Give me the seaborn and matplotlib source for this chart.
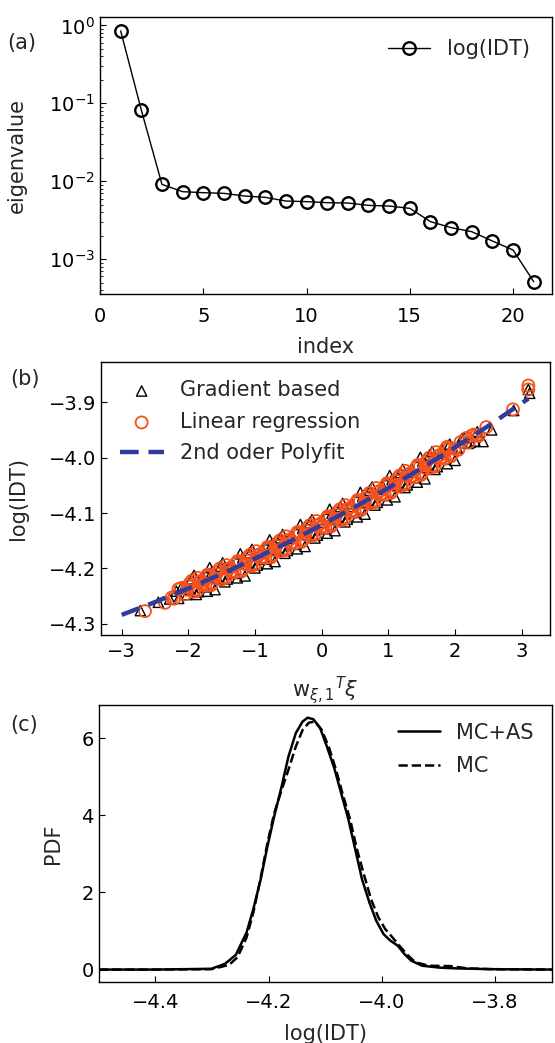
import matplotlib
matplotlib.use("Agg")
import matplotlib.pyplot as plt
import seaborn as sns

# ---------------- data ----------------
# (a) eigenvalues
eig_index = list(range(1, 22))
eig_values = [0.85, 0.082, 0.0091, 0.00734, 0.00713, 0.00699, 0.00646, 0.00621,
              0.00557, 0.00547, 0.00531, 0.00525, 0.0049, 0.0048, 0.00449,
              0.00303, 0.00254, 0.00225, 0.00171, 0.00131, 0.000514]

# (b) gradient based (triangles)
grad_x = [-2.72, -2.45, -2.28, -2.18, -2.10, -2.02, -1.95, -1.88, -1.82, -1.75,
          -1.68, -1.60, -1.52, -1.45, -1.38, -1.30, -1.22, -1.15, -1.08, -1.00,
          -0.92, -0.85, -0.78, -0.70, -0.62, -0.55, -0.48, -0.40, -0.32, -0.25,
          -0.18, -0.10, -0.02, 0.05, 0.12, 0.20, 0.28, 0.35, 0.42, 0.50,
          0.58, 0.65, 0.72, 0.80, 0.88, 0.95, 1.02, 1.10, 1.18, 1.25,
          1.32, 1.40, 1.48, 1.55, 1.62, 1.70, 1.78, 1.85, 1.92, 2.00,
          2.10, 2.20, 2.30, 2.42, 2.55, 2.88, 3.10, 3.12,
          -2.145, -2.065, -1.985, -1.915, -1.845, -1.785, -1.715, -1.645, -1.565, -1.485,
          -1.415, -1.345, -1.265, -1.185, -1.115, -1.045, -0.965, -0.885, -0.815, -0.745,
          -0.665, -0.585, -0.515, -0.445, -0.365, -0.285, -0.215, -0.145, -0.065, 0.015,
          0.085, 0.155, 0.235, 0.315, 0.385, 0.455, 0.535, 0.615, 0.685, 0.755,
          0.835, 0.915, 0.985, 1.055, 1.135, 1.215, 1.285, 1.355, 1.435, 1.515,
          1.585, 1.655, 1.735, 1.815, 1.885, 1.955, 2.035, 2.135, 2.235, 2.335]
grad_y = [-4.276, -4.261, -4.255, -4.241, -4.233, -4.247, -4.2185, -4.2469, -4.2208, -4.2331,
          -4.1984, -4.2382, -4.1959, -4.2241, -4.1973, -4.2089, -4.1735, -4.2135, -4.1716, -4.1990,
          -4.1714, -4.1834, -4.1483, -4.1875, -4.1448, -4.1726, -4.1454, -4.1565, -4.1207, -4.1603,
          -4.1179, -4.1450, -4.1169, -4.1284, -4.0930, -4.1318, -4.0885, -4.1159, -4.0883, -4.0990,
          -4.0626, -4.1020, -4.0591, -4.0857, -4.0571, -4.0683, -4.0324, -4.0707, -4.0272, -4.0541,
          -4.0260, -4.0363, -3.9995, -4.0383, -3.9952, -4.0213, -3.9923, -4.0030, -3.9757, -4.005,
          -3.9659, -3.9743, -3.9704, -3.971, -3.950, -3.915, -3.877, -3.884,
          -4.2540, -4.2341, -4.2381, -4.2125, -4.2419, -4.2158, -4.2411, -4.2054, -4.2172, -4.1899,
          -4.2191, -4.1923, -4.2169, -4.1805, -4.1925, -4.1656, -4.1940, -4.1664, -4.1914, -4.1553,
          -4.1665, -4.1388, -4.1676, -4.1404, -4.1645, -4.1277, -4.1393, -4.1119, -4.1400, -4.1119,
          -4.1364, -4.1000, -4.1108, -4.0825, -4.1109, -4.0833, -4.1070, -4.0696, -4.0810, -4.0531,
          -4.0807, -4.0521, -4.0763, -4.0394, -4.0497, -4.0212, -4.0491, -4.0210, -4.0443, -4.0065,
          -4.0173, -3.9892, -4.0163, -3.9873, -4.0110, -3.9807, -3.9826, -3.9639, -3.9723, -3.9534]

# (b) linear regression (circles)
lin_x = [-2.65, -2.35, -2.25, -2.15, -2.05, -1.98, -1.90, -1.84, -1.78, -1.71,
         -1.64, -1.56, -1.48, -1.41, -1.34, -1.26, -1.18, -1.11, -1.04, -0.96,
         -0.88, -0.81, -0.74, -0.66, -0.58, -0.51, -0.44, -0.36, -0.28, -0.21,
         -0.14, -0.06, 0.02, 0.09, 0.16, 0.24, 0.31, 0.38, 0.46, 0.54,
         0.61, 0.68, 0.76, 0.84, 0.91, 0.98, 1.06, 1.14, 1.21, 1.28,
         1.36, 1.44, 1.51, 1.58, 1.66, 1.74, 1.81, 1.88, 1.96, 2.05,
         2.17, 2.25, 2.32, 2.47, 2.87, 3.10, 3.10,
         -2.215, -2.115, -2.015, -1.945, -1.865, -1.805, -1.745, -1.675, -1.605, -1.525,
         -1.445, -1.375, -1.305, -1.225, -1.145, -1.075, -1.005, -0.925, -0.845, -0.775,
         -0.705, -0.625, -0.545, -0.475, -0.405, -0.325, -0.245, -0.175, -0.105, -0.025,
         0.055, 0.125, 0.195, 0.275, 0.345, 0.415, 0.495, 0.575, 0.645, 0.715,
         0.795, 0.875, 0.945, 1.015, 1.095, 1.175, 1.245, 1.315, 1.395, 1.475,
         1.545, 1.615, 1.695, 1.775, 1.845, 1.915, 1.995, 2.085, 2.205, 2.285, 2.355,
         -2.00, -1.92, -1.86, -1.80, -1.73, -1.66, -1.58, -1.50, -1.43, -1.36,
         -1.28, -1.20, -1.13, -1.06, -0.98, -0.90, -0.83, -0.76, -0.68, -0.60,
         -0.53, -0.46, -0.38, -0.30, -0.23, -0.16, -0.08, 0.00, 0.07, 0.14,
         0.22, 0.29, 0.36, 0.44, 0.52, 0.59, 0.66, 0.74, 0.82, 0.89,
         0.96, 1.04, 1.12, 1.19, 1.26, 1.34, 1.42, 1.49, 1.56, 1.64,
         1.72, 1.79, 1.86, 1.94]
lin_y = [-4.277, -4.262, -4.2526, -4.2376, -4.2466, -4.2270, -4.2379, -4.2248, -4.2287, -4.2111,
         -4.2263, -4.2050, -4.2157, -4.2020, -4.2051, -4.1866, -4.2012, -4.1803, -4.1912, -4.1768,
         -4.1791, -4.1610, -4.1760, -4.1542, -4.1644, -4.1502, -4.1530, -4.1341, -4.1481, -4.1269,
         -4.1374, -4.1224, -4.1243, -4.1059, -4.1203, -4.0981, -4.1086, -4.0939, -4.0956, -4.0764,
         -4.0906, -4.0689, -4.0785, -4.0629, -4.0651, -4.0462, -4.0596, -4.0370, -4.0469, -4.0320,
         -4.0332, -4.0134, -4.0273, -4.0051, -4.0142, -3.9982, -4.0000, -3.9807, -3.9936, -3.9858,
         -3.9646, -3.9604, -3.9598, -3.945, -3.913, -3.870, -3.877,
         -4.2546, -4.2356, -4.2386, -4.2220, -4.2399, -4.2218, -4.2307, -4.2131, -4.2173, -4.2000,
         -4.2177, -4.1990, -4.2071, -4.1886, -4.1922, -4.1753, -4.1932, -4.1738, -4.1811, -4.1630,
         -4.1670, -4.1492, -4.1664, -4.1472, -4.1550, -4.1361, -4.1391, -4.1219, -4.1394, -4.1194,
         -4.1263, -4.1079, -4.1113, -4.0931, -4.1106, -4.0909, -4.0976, -4.0784, -4.0816, -4.0639,
         -4.0805, -4.0599, -4.0671, -4.0482, -4.0506, -4.0320, -4.0489, -4.0290, -4.0352, -4.0154,
         -4.0183, -4.0001, -4.0162, -3.9952, -4.0020, -3.9827, -3.9846, -3.9718, -3.9726, -3.9584, -3.9608,
         -4.2320, -4.2419, -4.2168, -4.2287, -4.2151, -4.2303, -4.2100, -4.2197, -4.1940, -4.2051,
         -4.1906, -4.2052, -4.1853, -4.1952, -4.1688, -4.1791, -4.1650, -4.1800, -4.1592, -4.1684,
         -4.1422, -4.1530, -4.1381, -4.1521, -4.1319, -4.1414, -4.1144, -4.1243, -4.1099, -4.1243,
         -4.1031, -4.1126, -4.0859, -4.0956, -4.0804, -4.0946, -4.0739, -4.0825, -4.0549, -4.0651,
         -4.0502, -4.0636, -4.0420, -4.0509, -4.0240, -4.0332, -4.0174, -4.0313, -4.0101, -4.0182,
         -3.9902, -4.0000, -3.9847, -3.9976]

fit_x = [-3.0, -2.5, -2.0, -1.5, -1.0, -0.5, 0.0, 0.5, 1.0, 1.5, 2.0, 2.5, 3.1]
fit_y = [-4.2837, -4.2607, -4.236, -4.2098, -4.182, -4.1526, -4.1216, -4.089,
         -4.0548, -4.019, -3.9816, -3.9427, -3.8937]

# (c) PDFs
mcas_x = [-4.50, -4.40, -4.301, -4.277, -4.258, -4.239, -4.227, -4.214, -4.202, -4.190,
          -4.177, -4.165, -4.152, -4.140, -4.131, -4.121, -4.109, -4.097, -4.084, -4.072,
          -4.059, -4.047, -4.035, -4.022, -4.010, -3.997, -3.985, -3.972, -3.960, -3.948,
          -3.929, -3.898, -3.867, -3.805, -3.70]
mcas_y = [0.0, 0.0, 0.02, 0.15, 0.38, 0.96, 1.57, 2.34, 3.20, 3.98,
          4.75, 5.52, 6.13, 6.43, 6.53, 6.49, 6.26, 5.78, 5.22, 4.58,
          3.89, 3.12, 2.34, 1.74, 1.27, 0.92, 0.75, 0.62, 0.40, 0.23,
          0.10, 0.05, 0.03, 0.01, 0.0]
mc_x = [-4.50, -4.40, -4.301, -4.270, -4.255, -4.239, -4.227, -4.214, -4.202, -4.190,
        -4.177, -4.165, -4.152, -4.140, -4.129, -4.118, -4.106, -4.093, -4.081, -4.069,
        -4.056, -4.044, -4.031, -4.019, -4.006, -3.994, -3.981, -3.969, -3.956, -3.941,
        -3.917, -3.879, -3.848, -3.805, -3.70]
mc_y = [0.0, 0.0, 0.01, 0.12, 0.32, 0.83, 1.48, 2.38, 3.29, 4.06,
        4.66, 5.18, 5.78, 6.21, 6.40, 6.43, 6.21, 5.74, 5.18, 4.54,
        3.89, 3.12, 2.43, 1.82, 1.35, 1.05, 0.83, 0.62, 0.40, 0.19,
        0.10, 0.09, 0.03, 0.01, 0.0]

# ---------------- style ----------------
sns.set_style("ticks")
plt.rcParams["font.family"] = ["DejaVu Sans"]
plt.rcParams.update({
    "xtick.direction": "in", "ytick.direction": "in",
    "xtick.labelsize": 14, "ytick.labelsize": 14,
    "axes.labelsize": 15, "axes.edgecolor": "black", "axes.linewidth": 1.0,
    "xtick.major.size": 4, "ytick.major.size": 4,
    "xtick.minor.size": 2.5, "ytick.minor.size": 2.5,
    "xtick.color": "black", "ytick.color": "black",
    "legend.fontsize": 15,
})

fig = plt.figure(figsize=(5.55, 10.43), dpi=100)
ax1 = fig.add_axes([0.1802, 0.7181, 0.8138, 0.2656])
ax2 = fig.add_axes([0.182, 0.3912, 0.809, 0.262])
ax3 = fig.add_axes([0.178, 0.0582, 0.816, 0.2659])

# (a)
sns.lineplot(x=eig_index, y=eig_values, ax=ax1, color="black", lw=1.0,
             marker="o", markersize=9, markerfacecolor="none",
             markeredgecolor="black", markeredgewidth=1.7, label="log(IDT)")
ax1.set_yscale("log")
ax1.set_ylim(3.57e-4, 1.28)
ax1.set_xlim(0, 21.87)
ax1.set_xticks([0, 5, 10, 15, 20])
ax1.tick_params(axis="x", pad=9.5)
ax1.set_xlabel("index", labelpad=7.5)
ax1.set_ylabel("eigenvalue")
ax1.yaxis.set_label_coords(-0.1616, 0.5)
ax1.legend(loc="upper right", frameon=False, fontsize=15, handlelength=2.0,
           borderaxespad=0.65)

# (b)
sns.scatterplot(x=grad_x, y=grad_y, ax=ax2, marker="^", s=55,
                facecolor="none", edgecolor="black", linewidth=1.0,
                label="Gradient based")
sns.scatterplot(x=lin_x, y=lin_y, ax=ax2, marker="o", s=75,
                facecolor="none", edgecolor="#F4511E", linewidth=1.3,
                label="Linear regression")
sns.lineplot(x=fit_x, y=fit_y, ax=ax2, color="#2F3C9D", lw=3.2,
             dashes=(4.2, 2.2), label="2nd oder Polyfit")
ax2.set_xlim(-3.31, 3.425)
ax2.set_ylim(-4.32, -3.827)
ax2.set_xticks([-3, -2, -1, 0, 1, 2, 3])
ax2.set_yticks([-4.3, -4.2, -4.1, -4.0, -3.9])
ax2.tick_params(axis="x", pad=5)
ax2.set_xlabel(r"$\mathrm{w}_{\xi,1}{}^{T}\xi$", labelpad=9.5)
ax2.set_ylabel("log(IDT)")
ax2.yaxis.set_label_coords(-0.1635, 0.5)
ax2.legend(loc="upper left", frameon=False, fontsize=15, handlelength=2.1,
           borderaxespad=0.5, labelspacing=0.55)

# (c)
sns.lineplot(x=mcas_x, y=mcas_y, ax=ax3, color="black", lw=1.8, label="MC+AS")
sns.lineplot(x=mc_x, y=mc_y, ax=ax3, color="black", lw=1.8, linestyle="--",
             label="MC")
ax3.set_xlim(-4.5, -3.70)
ax3.set_ylim(-0.33, 6.86)
ax3.set_xticks([-4.4, -4.2, -4.0, -3.8])
ax3.set_yticks([0, 2, 4, 6])
ax3.tick_params(axis="x", pad=8)
ax3.set_xlabel("log(IDT)", labelpad=8)
ax3.set_ylabel("PDF")
ax3.yaxis.set_label_coords(-0.078, 0.5)
ax3.legend(loc="upper right", frameon=False, fontsize=15, handlelength=2.0,
           borderaxespad=0.45, labelspacing=0.65)

for ax in (ax1, ax2, ax3):
    ax.tick_params(which="both", top=False, right=False)

fig.text(0.040, 1 - 43 / 1043, "(a)", fontsize=15, ha="center", va="center")
fig.text(0.045, 1 - 379 / 1043, "(b)", fontsize=15, ha="center", va="center")
fig.text(0.043, 1 - 725 / 1043, "(c)", fontsize=15, ha="center", va="center")

fig.savefig("out.png", dpi=100)
